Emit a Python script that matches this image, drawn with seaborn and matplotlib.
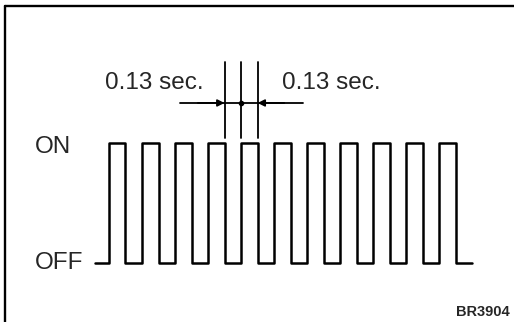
import matplotlib.pyplot as plt
import pandas as pd
import seaborn as sns

# signal edges (sec) and ON/OFF level after each edge
edge_times = [-0.11, 0.00, 0.13, 0.26, 0.39, 0.52, 0.65, 0.78, 0.91, 1.04, 1.17,
              1.30, 1.43, 1.56, 1.69, 1.82, 1.95, 2.08, 2.21, 2.34, 2.47, 2.60,
              2.73, 2.86]
levels = [0, 1, 0, 1, 0, 1, 0, 1, 0, 1, 0,
          1, 0, 1, 0, 1, 0, 1, 0, 1, 0, 1,
          0, 0]
state_labels = ["OFF", "ON"]
interval_label = "0.13 sec."
marker_times = [0.91, 1.04, 1.17]
code_label = "BR3904"

sns.set_theme(style="white")
plt.rcParams["font.family"] = ["Liberation Sans", "DejaVu Sans"]

df = pd.DataFrame({"time": edge_times, "level": levels})

fig = plt.figure(figsize=(5.14, 3.22), dpi=100)
ax = fig.add_axes([0, 0, 1, 1])
sns.lineplot(data=df, x="time", y="level", drawstyle="steps-post",
             color="black", linewidth=1.8, ax=ax)

ax.set_xlim(-0.858, 3.189)
ax.set_ylim(-0.49, 2.19)
ax.axis("off")

# frame (left and top only)
ax.axvline(-0.819, ymin=0, ymax=(2.142 + 0.49) / 2.68, color="black", linewidth=1.7)
ax.axhline(2.142, xmin=(-0.819 + 0.858) / 4.047, xmax=1, color="black", linewidth=1.7)

# dimension lines
for t in marker_times:
    ax.plot([t, t], [1.04, 1.675], color="black", linewidth=1.3)
ax.plot([0.56, 1.53], [1.333, 1.333], color="black", linewidth=1.3)
ax.annotate("", xy=(marker_times[0], 1.333), xytext=(0.70, 1.333),
            arrowprops=dict(arrowstyle="-|>", color="black", lw=1.3,
                            mutation_scale=10, shrinkA=0, shrinkB=0))
ax.annotate("", xy=(marker_times[2], 1.333), xytext=(1.38, 1.333),
            arrowprops=dict(arrowstyle="-|>", color="black", lw=1.3,
                            mutation_scale=10, shrinkA=0, shrinkB=0))
ax.plot([marker_times[1]], [1.333], marker="o", color="black", markersize=3)

ax.text(-0.03, 1.5, interval_label, fontsize=17.5, ha="left", va="center")
ax.text(1.362, 1.5, interval_label, fontsize=17.5, ha="left", va="center")
ax.text(-0.583, 0.967, state_labels[1], fontsize=17.5, ha="left", va="center")
ax.text(-0.583, 0.0, state_labels[0], fontsize=17.5, ha="left", va="center")
ax.text(3.157, -0.408, code_label, fontsize=10.5, fontweight="bold",
        ha="right", va="center")

fig.savefig("out.png", dpi=100)
